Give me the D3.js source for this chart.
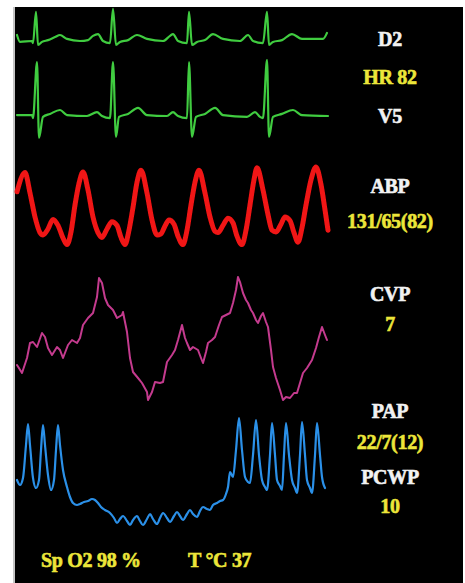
<!DOCTYPE html>
<html>
<head>
<meta charset="utf-8">
<script src="https://cdn.jsdelivr.net/npm/d3@7/dist/d3.min.js"></script>
<style>
  html, body { margin: 0; padding: 0; background: #fff; }
  svg { display: block; }
  .lbl { font-family: "Liberation Serif", "Times New Roman", serif; font-weight: bold; font-size: 20px;
         stroke-width: 0.6px; letter-spacing: -0.3px; }
</style>
</head>
<body>
<div id="monitor"></div>
<script>
// time in seconds (sweep), value in mV or mmHg
var d2Wave = [[0,0.2],[0.03,-0.03],[0.15,0],[0.16,-0.07],[0.19,0.97],[0.21,-0.13],[0.25,-0.03],[0.31,0.03],
  [0.38,0.13],[0.43,0.2],[0.5,0.07],[0.63,0],[0.71,0.03],[0.76,0.17],[0.81,0.23],[0.86,0],[0.93,-0.07],
  [0.96,1.07],[0.99,-0.13],[1.03,-0.03],[1.11,0.03],[1.2,0.2],[1.3,0.07],[1.46,0],[1.53,0.17],[1.56,0.23],
  [1.61,0],[1.7,-0.07],[1.72,0.97],[1.75,-0.13],[1.8,-0.03],[1.88,0.03],[1.96,0.23],[2.06,0.07],[2.23,0],
  [2.31,0.2],[2.36,0],[2.46,-0.07],[2.5,0.97],[2.52,-0.13],[2.56,-0.03],[2.65,0.03],[2.75,0.23],[2.85,0.07],
  [3.06,0.07],[3.1,0.27]];

var v5Wave = [[0,0.03],[0.15,0.03],[0.16,-0.07],[0.2,1.8],[0.22,-0.73],[0.26,-0.03],[0.33,0.07],[0.43,0.2],
  [0.5,0.03],[0.7,0],[0.8,0.13],[0.85,0],[0.93,-0.07],[0.96,1.8],[0.99,-0.7],[1.02,-0.03],[1.11,0.07],
  [1.21,0.27],[1.3,0.03],[1.5,0],[1.56,0.13],[1.61,0],[1.7,-0.07],[1.72,1.8],[1.75,-0.7],[1.79,-0.03],
  [1.88,0.07],[1.98,0.27],[2.06,0.03],[2.3,-0.03],[2.38,0.13],[2.43,-0.03],[2.46,-0.07],[2.5,1.87],
  [2.52,-0.7],[2.56,-0.03],[2.65,0.07],[2.76,0.2],[2.85,0.03],[3.11,0]];

var abpWave = [[0,111],[0.08,127],[0.13,110],[0.18,90],[0.23,77],[0.26,75],[0.31,80],[0.36,88],[0.41,83],
  [0.46,72.5],[0.5,67],[0.54,77.5],[0.58,100],[0.62,118],[0.66,127.5],[0.71,112.5],[0.76,90],[0.81,77],
  [0.85,73],[0.9,80],[0.95,86],[1,83],[1.04,73],[1.08,67],[1.12,79],[1.16,98],[1.2,119],[1.24,129],
  [1.3,110],[1.35,87.5],[1.4,75],[1.44,76],[1.48,82.5],[1.52,87.5],[1.57,84],[1.61,74],[1.66,67],
  [1.7,79],[1.74,100],[1.78,119],[1.82,129],[1.88,110],[1.93,90],[1.98,78],[2.01,77],[2.06,83],[2.11,89],
  [2.16,85],[2.2,74],[2.25,67],[2.29,79],[2.33,100],[2.37,121],[2.4,131],[2.46,112.5],[2.51,92],[2.55,79],
  [2.59,77.5],[2.64,84],[2.68,90],[2.73,87],[2.77,77],[2.81,69],[2.85,81],[2.89,100],[2.94,121],
  [2.99,131.7],[3.04,117],[3.08,96],[3.11,79]];

var cvpWave = [[0,4.5],[0.05,3.7],[0.1,5.2],[0.13,6.7],[0.16,6.8],[0.2,6.3],[0.25,7.7],[0.28,7.3],[0.31,6.2],
  [0.35,5.5],[0.4,6.3],[0.43,6],[0.46,5.2],[0.51,6.5],[0.55,7],[0.6,6.7],[0.63,7.2],[0.66,8.5],[0.71,9.2],
  [0.76,9.7],[0.8,11.3],[0.82,13.2],[0.85,12.7],[0.88,11.2],[0.91,10.5],[0.96,10],[1,9.2],[1.05,9.5],
  [1.06,9.8],[1.1,7.8],[1.13,5.2],[1.16,3.8],[1.21,3.2],[1.25,2.7],[1.3,1.8],[1.31,1],[1.35,1.8],[1.38,2.8],
  [1.43,2.7],[1.46,2.8],[1.5,4.8],[1.55,5.5],[1.58,6],[1.61,7],[1.65,8.5],[1.68,7.2],[1.7,6.7],[1.73,6],
  [1.76,6.3],[1.81,6],[1.84,5.2],[1.86,4.7],[1.89,5.8],[1.91,6.7],[1.95,7],[1.98,7.3],[2.02,8.5],[2.05,9.3],
  [2.09,9.5],[2.13,9.7],[2.16,10.7],[2.19,12],[2.21,13.3],[2.23,12.8],[2.26,11.7],[2.29,11],[2.31,10.7],
  [2.34,10],[2.36,9.7],[2.39,9],[2.41,8.7],[2.44,9.4],[2.46,9.7],[2.49,8.8],[2.51,8.3],[2.54,6],[2.56,4.3],
  [2.59,3.2],[2.63,2],[2.66,1],[2.69,1.3],[2.73,1.2],[2.77,1.7],[2.8,1.7],[2.83,2.7],[2.86,3.7],[2.9,4.2],
  [2.95,5],[2.99,6.2],[3.02,7.3],[3.05,8.3],[3.08,7.5],[3.1,7]];

var papWave = [[0,10],[0.03,9],[0.06,10.4],[0.09,17],[0.11,21.2],[0.13,17],[0.16,10.4],[0.19,8.4],[0.22,10],
  [0.24,16],[0.26,21],[0.28,17],[0.31,11],[0.34,8],[0.37,10],[0.39,16],[0.41,21],[0.43,17],[0.46,12],
  [0.5,8.6],[0.53,6.6],[0.56,5.4],[0.6,5],[0.63,5.2],[0.67,5.6],[0.71,5.8],[0.75,6.2],[0.78,6],[0.81,5.4],
  [0.84,4.6],[0.88,4],[0.93,3.4],[0.97,2.4],[1,1.4],[1.03,2.2],[1.06,2.8],[1.1,1.8],[1.13,1],[1.16,2],
  [1.2,2.8],[1.23,1.8],[1.26,1],[1.3,2.2],[1.33,3.2],[1.36,2.2],[1.4,1.2],[1.43,2.4],[1.46,3.4],[1.5,2.4],
  [1.53,1.6],[1.57,2.8],[1.6,3.6],[1.63,2.8],[1.66,2],[1.7,3.2],[1.73,4],[1.76,3.2],[1.8,2.6],[1.83,3.8],
  [1.86,4.6],[1.9,4.2],[1.93,4],[1.96,5],[2,5.4],[2.03,5.8],[2.06,6],[2.09,7.2],[2.11,8.6],[2.13,11.6],
  [2.16,10.6],[2.19,16],[2.22,22.4],[2.25,16],[2.28,10.6],[2.31,9.6],[2.33,9.4],[2.36,15],[2.39,22],
  [2.42,15],[2.45,10],[2.48,8.6],[2.5,8],[2.53,15],[2.55,21.4],[2.58,15],[2.6,10],[2.63,8.8],[2.65,8],
  [2.67,15],[2.69,21.4],[2.72,15],[2.75,10],[2.78,8.4],[2.8,7.4],[2.83,15],[2.85,21.6],[2.88,15],[2.9,10],
  [2.93,8.4],[2.95,7.4],[2.98,15],[3,21.4],[3.03,15],[3.05,10.6],[3.08,8.4]];

// right column readouts
var labelTexts = ['D2', 'HR 82', 'V5', 'ABP', '131/65(82)', 'CVP', '7', 'PAP', '22/7(12)', 'PCWP', '10'];
var labelKinds = ['name', 'value', 'name', 'name', 'value', 'name', 'value', 'name', 'value', 'name', 'value'];
var footerTexts = ['Sp O2 98 %', 'T \u00B0C 37'];

var w = 465, h = 583;
var svg = d3.select('#monitor').append('svg')
    .attr('width', w)
    .attr('height', h);

// soft phosphor look
var glow = svg.append('defs').append('filter')
    .attr('id', 'glow')
    .attr('x', '-5%').attr('y', '-5%')
    .attr('width', '110%').attr('height', '110%');
glow.append('feGaussianBlur').attr('stdDeviation', 0.5);

// screen
svg.append('rect')
    .attr('x', 15).attr('y', 7)
    .attr('width', 448).attr('height', h - 7)
    .attr('fill', '#000');
svg.append('line')
    .attr('x1', 14).attr('x2', 14)
    .attr('y1', 7).attr('y2', h)
    .attr('stroke', '#b0b0b0')
    .attr('stroke-width', 1.5);

// shared sweep scale
var x = d3.scaleLinear()
    .domain([0, 3.11])
    .range([17, 328]);

var traces = [
  {data: d2Wave, domain: [0, 1], range: [41, 11], color: '#40cc40', width: 2.2, curve: d3.curveMonotoneX},
  {data: v5Wave, domain: [0, 1], range: [116, 86], color: '#40cc40', width: 2.2, curve: d3.curveMonotoneX},
  {data: abpWave, domain: [65, 131], range: [247, 167.8], color: '#f01414', width: 5, curve: d3.curveMonotoneX},
  {data: cvpWave, domain: [0, 10], range: [410, 310], color: '#c43a8e', width: 2, curve: d3.curveLinear},
  {data: papWave, domain: [0, 22], range: [530, 420], color: '#2c90e8', width: 2.2, curve: d3.curveMonotoneX}
];

traces.forEach(function(tr) {
    var y = d3.scaleLinear().domain(tr.domain).range(tr.range);
    var line = d3.line()
        .x(function(d){return x(d[0])})
        .y(function(d){return y(d[1])})
        .curve(tr.curve);
    svg.append('path')
        .datum(tr.data)
        .attr('fill', 'none')
        .attr('stroke', tr.color)
        .attr('stroke-width', tr.width)
        .attr('stroke-linejoin', 'round')
        .attr('stroke-linecap', 'round')
        .attr('filter', 'url(#glow)')
        .attr('d', line);
});

// readouts, centred on the right column
var labelY = [46, 84, 123, 193, 228, 301, 331, 418, 449, 484, 513];
svg.selectAll('text.readout')
    .data(labelTexts)
  .enter().append('text')
    .attr('class', 'lbl readout')
    .attr('x', 390)
    .attr('y', function(d, i){return labelY[i]})
    .attr('text-anchor', 'middle')
    .attr('fill', function(d, i){return labelKinds[i] === 'name' ? '#f2f2f2' : '#ece63a'})
    .attr('stroke', function(d, i){return labelKinds[i] === 'name' ? '#f2f2f2' : '#ece63a'})
    .text(function(d){return d});

var footX = [41, 188];
svg.selectAll('text.footer')
    .data(footerTexts)
  .enter().append('text')
    .attr('class', 'lbl footer')
    .attr('x', function(d, i){return footX[i]})
    .attr('y', 567)
    .attr('fill', '#ece63a')
    .attr('stroke', '#ece63a')
    .text(function(d){return d});
</script>
</body>
</html>
